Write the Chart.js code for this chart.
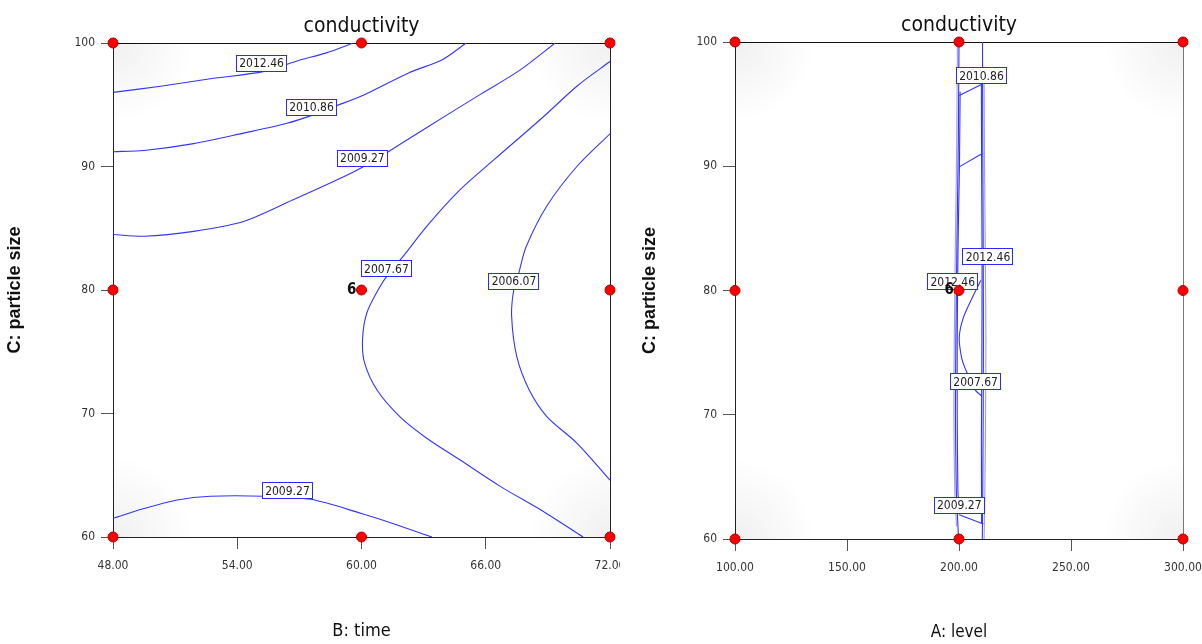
<!DOCTYPE html>
<html>
<head>
<title>conductivity contours</title>
<script src="https://cdn.jsdelivr.net/npm/chart.js@4.4.0/dist/chart.umd.min.js"></script>
<style>
  body { margin: 0; background: #fff; width: 1202px; height: 644px; overflow: hidden; position: relative; }
  canvas { position: absolute; top: 0; }
  #timeChart { left: 0; }
  #levelChart { left: 620px; }
</style>
</head>
<body>
<canvas id="timeChart" width="620" height="644"></canvas>
<canvas id="levelChart" width="582" height="644"></canvas>

<script>
// ---- data ----
var timeTicks = [48, 54, 60, 66, 72];
var levelTicks = [100, 150, 200, 250, 300];
var sizeTicks = [60, 70, 80, 90, 100];

// design points (red dots), centre point has 6 runs
var timeDesign = [48, 60, 72];
var levelDesign = [100, 200, 300];
var sizeDesign = [60, 80, 100];
var centreRuns = "6";

// B: time vs C: particle size contours  [time, size]
var time201246 = [[48, 96.0], [50.3, 96.5], [52.7, 97.1], [55.3, 97.7], [57.0, 98.6], [58.3, 99.2], [59.6, 100]];
var time201086 = [[48, 91.2], [49.5, 91.3], [51.9, 91.85], [54.3, 92.7], [56.4, 93.5], [57.7, 94.2], [58.75, 94.9], [60, 95.7], [62.3, 97.6], [63.9, 98.65], [65.05, 100]];
var time200927 = [[48, 84.5], [49.5, 84.35], [51.9, 84.75], [54.3, 85.55], [56.7, 87.3], [58.8, 88.9], [60, 89.9], [61.2, 91.1], [63.1, 93.1], [65.6, 95.7], [67.65, 97.8], [69.35, 100]];
var time200767 = [[72, 98.5], [70.4, 96.5], [68.8, 94.05], [66.4, 90.55], [64.75, 88.1], [63.15, 85.15], [62.0, 82.7], [61.3, 81.3], [60.8, 80.0], [60.25, 78.1], [60.05, 76.0], [60.15, 74.1], [60.75, 71.9], [61.85, 69.75], [63.15, 68.0], [64.75, 66.25], [66.7, 64.1], [68.8, 62.05], [70.7, 60]];
var time200607 = [[72, 92.65], [70.4, 90.0], [68.95, 86.8], [67.95, 83.5], [67.6, 81.4], [67.35, 80.0], [67.25, 77.85], [67.5, 74.6], [68.1, 71.9], [68.95, 69.75], [70.4, 67.6], [72, 64.6]];
var time200927low = [[48, 61.5], [49.5, 62.3], [51.1, 63.0], [52.7, 63.3], [55.3, 63.3], [57.55, 63.05], [60, 61.9], [61.5, 61.1], [63.4, 60]];

var timeLabelText = ["2012.46", "2010.86", "2009.27", "2007.67", "2006.07", "2009.27"];
var timeLabelX = [55.15, 57.56, 60.02, 61.18, 67.34, 56.4];
var timeLabelY = [98.4, 94.85, 90.7, 81.76, 80.75, 63.8];

// A: level vs C: particle size contours  [level, size]
var levelBandL1 = [[200.0, 100], [199.7, 92], [199.1, 84], [198.6, 76], [198.4, 70], [198.8, 64], [199.8, 60]];
var levelBandL2 = [[199.3, 100], [199.0, 92], [198.4, 84], [197.9, 76], [197.7, 70], [198.1, 64], [198.9, 61]];
var levelBandL3 = [[200.5, 96], [200.2, 90], [199.6, 84], [199.2, 76], [199.2, 70], [199.5, 64], [200.0, 62]];
var levelBandR1 = [[210.5, 100], [210.6, 92], [210.8, 84], [210.9, 76], [210.8, 70], [210.6, 64], [210.4, 60]];
var levelBandR2 = [[211.2, 98], [211.4, 90], [211.8, 82], [212.0, 76], [211.8, 68], [211.4, 62], [211.2, 60]];
var levelBandR3 = [[210.0, 96.6], [210.1, 90], [210.3, 82], [210.2, 74], [210.0, 68], [210.1, 61.2]];
var levelStep1 = [[200.1, 95.7], [210.2, 96.6]];
var levelStep2 = [[200.1, 89.95], [210.2, 91.0]];
var levelBend = [[209.7, 80.8], [206.4, 79.6], [201.9, 77.8], [200.1, 76.2], [201.2, 74.55], [202.7, 73.75], [207.2, 72.0], [210.2, 71.5]];
var levelStep3 = [[200.1, 61.95], [210.9, 61.2]];

var levelLabelText = ["2010.86", "2012.46", "2012.46", "2007.67", "2009.27"];
var levelLabelX = [209.8, 212.7, 197.0, 207.2, 199.9];
var levelLabelY = [97.33, 82.77, 80.76, 72.7, 62.76];

// ---- drawing ----
var NARROW = '"Liberation Sans Narrow", "Arial Narrow", "DejaVu Sans Condensed", sans-serif';
var BLUE = "#3434ff";
var LIGHT = "#9c9cff";

function toXY(arr) {
    return arr.map(function (p) { return { x: p[0], y: p[1] }; });
}

function grid(xs, ys) {
    var pts = [];
    ys.forEach(function (y) {
        xs.forEach(function (x) { pts.push({ x: x, y: y }); });
    });
    return pts;
}

function line(arr, color, tension) {
    return {
        data: toXY(arr),
        showLine: true,
        borderColor: color,
        borderWidth: 1.1,
        pointRadius: 0,
        tension: tension
    };
}

var contourDecor = {
    id: "contourDecor",
    beforeDatasetsDraw: function (chart) {
        // faint grey in the corners of the plot
        var a = chart.chartArea, ctx = chart.ctx;
        ctx.save();
        ctx.beginPath();
        ctx.rect(a.left, a.top, a.right - a.left, a.bottom - a.top);
        ctx.clip();
        [[a.left, a.top], [a.right, a.top], [a.left, a.bottom], [a.right, a.bottom]].forEach(function (p) {
            var g = ctx.createRadialGradient(p[0], p[1], 0, p[0], p[1], 80);
            g.addColorStop(0, "rgba(0,0,0,0.06)");
            g.addColorStop(1, "rgba(0,0,0,0)");
            ctx.fillStyle = g;
            ctx.fillRect(p[0] - 80, p[1] - 80, 160, 160);
        });
        ctx.restore();
    },
    beforeDatasetDraw: function (chart, args, opts) {
        // contour labels go under the red design points
        if (args.index !== 0) return;
        var ctx = chart.ctx, xs = chart.scales.x, ys = chart.scales.y;
        ctx.save();
        ctx.font = "12px " + NARROW;
        ctx.textAlign = "center";
        ctx.textBaseline = "middle";
        opts.text.forEach(function (t, i) {
            var px = xs.getPixelForValue(opts.xs[i]);
            var py = ys.getPixelForValue(opts.ys[i]);
            var w = Math.round(ctx.measureText(t).width + 5), h = 16;
            var l = Math.round(px - w / 2), tp = Math.round(py - h / 2);
            ctx.fillStyle = "#fff";
            ctx.fillRect(l, tp, w, h);
            ctx.strokeStyle = "#2a2aff";
            ctx.lineWidth = 1;
            ctx.strokeRect(l + 0.5, tp + 0.5, w, h);
            ctx.fillStyle = "#222";
            ctx.fillText(t, px + 0.5, py + 1.5);
        });
        ctx.restore();
    },
    afterDatasetsDraw: function (chart, args, opts) {
        var ctx = chart.ctx;
        var px = chart.scales.x.getPixelForValue(opts.centre[0]);
        var py = chart.scales.y.getPixelForValue(opts.centre[1]);
        ctx.save();
        ctx.font = "bold 15px " + NARROW;
        ctx.fillStyle = "#111";
        ctx.textAlign = "right";
        ctx.textBaseline = "middle";
        ctx.fillText(centreRuns, px - 5, py);
        ctx.restore();
    }
};

function makeChart(id, o) {
    var tickFont = { family: NARROW, size: 12 };
    var datasets = [{
        data: grid(o.design, sizeDesign),
        pointRadius: 5,
        pointBackgroundColor: "#ff0000",
        pointBorderColor: "#b00000",
        pointBorderWidth: 1,
        showLine: false,
        clip: false
    }].concat(o.lines);

    return new Chart(document.getElementById(id), {
        type: "scatter",
        data: { datasets: datasets },
        options: {
            responsive: false,
            devicePixelRatio: 1,
            animation: false,
            layout: { autoPadding: false, padding: 0 },
            plugins: {
                legend: { display: false },
                tooltip: { enabled: false },
                contourDecor: { text: o.labelText, xs: o.labelX, ys: o.labelY, centre: o.centre }
            },
            scales: {
                x: {
                    type: "linear", position: "bottom", min: o.xTicks[0], max: o.xTicks[o.xTicks.length - 1],
                    afterBuildTicks: function (s) { s.ticks = o.xTicks.map(function (v) { return { value: v }; }); },
                    afterFit: function (s) { s.height = o.bottomH; s.paddingLeft = 0; s.paddingRight = 0; },
                    ticks: { font: tickFont, color: "#333", padding: 10, maxRotation: 0, autoSkip: false,
                        callback: function (v) { return Number(v).toFixed(2); } },
                    grid: { drawOnChartArea: false, drawTicks: true, tickLength: 12, color: "#555" },
                    border: { color: "#222" },
                    title: { display: true, text: o.xTitle, color: "#111", font: { family: NARROW, size: o.xTitleSize },
                        padding: { top: 0, bottom: o.xTitlePad } }
                },
                y: {
                    type: "linear", position: "left", min: 60, max: 100,
                    afterBuildTicks: function (s) { s.ticks = sizeTicks.map(function (v) { return { value: v }; }); },
                    afterFit: function (s) { s.width = o.leftW; s.paddingTop = 0; s.paddingBottom = 0; },
                    ticks: { font: tickFont, color: "#333", padding: 6, autoSkip: false },
                    grid: { drawOnChartArea: false, drawTicks: true, tickLength: 12, color: "#555" },
                    border: { color: "#222" },
                    title: { display: true, text: "C: particle size", color: "#111",
                        font: { family: "Liberation Sans, Arial, sans-serif", size: 18, weight: "bold" },
                        padding: { top: o.yTitlePad, bottom: 0 } }
                },
                top: {
                    type: "linear", position: "top", min: o.xTicks[0], max: o.xTicks[o.xTicks.length - 1],
                    afterFit: function (s) { s.height = o.topH; s.paddingLeft = 0; s.paddingRight = 0; },
                    ticks: { display: false },
                    grid: { display: false },
                    border: { color: "#111" },
                    title: { display: true, text: "conductivity", color: "#111", font: { family: NARROW, size: 21 },
                        padding: { top: o.titlePad, bottom: 0 } }
                },
                right: {
                    type: "linear", position: "right", min: 60, max: 100,
                    afterFit: function (s) { s.width = o.rightW; s.paddingTop = 0; s.paddingBottom = 0; },
                    ticks: { display: false },
                    grid: { display: false },
                    border: { color: o.rightColor }
                }
            }
        },
        plugins: [contourDecor]
    });
}

makeChart("timeChart", {
    design: timeDesign,
    xTicks: timeTicks,
    xTitle: "B: time", xTitleSize: 18, xTitlePad: 2,
    leftW: 113, rightW: 10, topH: 43, bottomH: 107,
    yTitlePad: 4, titlePad: 14, rightColor: "#222",
    centre: [60, 80],
    labelText: timeLabelText, labelX: timeLabelX, labelY: timeLabelY,
    lines: [
        line(time201246, BLUE, 0.3),
        line(time201086, BLUE, 0.3),
        line(time200927, BLUE, 0.3),
        line(time200767, BLUE, 0.3),
        line(time200607, BLUE, 0.3),
        line(time200927low, BLUE, 0.3)
    ]
});

makeChart("levelChart", {
    design: levelDesign,
    xTicks: levelTicks,
    xTitle: "A: level", xTitleSize: 17, xTitlePad: 1,
    leftW: 115, rightW: 19, topH: 42, bottomH: 105,
    yTitlePad: 19, titlePad: 13, rightColor: "#777",
    centre: [200, 80],
    labelText: levelLabelText, labelX: levelLabelX, labelY: levelLabelY,
    lines: [
        line(levelBandL1, BLUE, 0.2),
        line(levelBandL2, LIGHT, 0.2),
        line(levelBandL3, BLUE, 0.2),
        line(levelBandR1, BLUE, 0.2),
        line(levelBandR2, LIGHT, 0.2),
        line(levelBandR3, BLUE, 0.2),
        line(levelStep1, BLUE, 0),
        line(levelStep2, BLUE, 0),
        line(levelBend, BLUE, 0.3),
        line(levelStep3, BLUE, 0)
    ]
});
</script>
</body>
</html>
